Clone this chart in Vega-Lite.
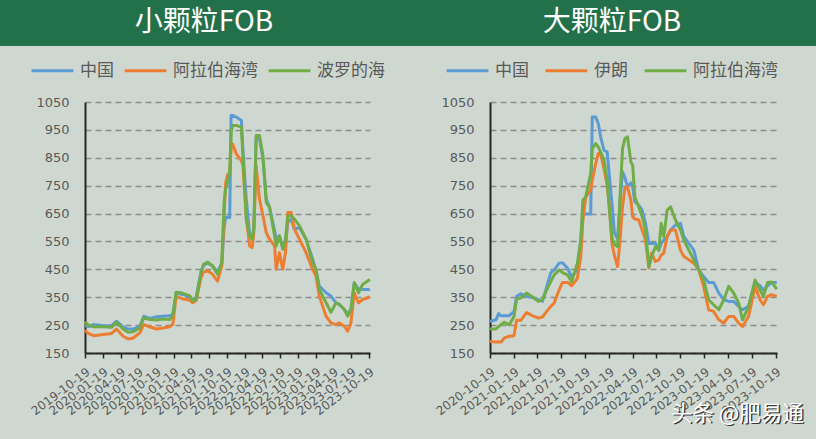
{
  "$schema": "https://vega.github.io/schema/vega-lite/v6.json",
  "background": "#CFD8D0",
  "padding": {"left": 0, "top": 0, "right": 0, "bottom": 14},
  "config": {
    "view": {"stroke": null},
    "axis": {"labelColor": "#595959", "domainColor": "#262626", "domainWidth": 2, "tickColor": "#262626", "tickWidth": 1.5, "labelFont": "DejaVu Sans", "labelOverlap": false, "labelFlush": false},
    "legend": {"orient": "none", "direction": "horizontal", "symbolType": "stroke", "symbolStrokeWidth": 3, "symbolSize": 1750, "labelFontSize": 17, "labelFont": "Noto Sans CJK SC", "labelColor": "#595959", "columnPadding": 4, "labelOffset": 5}
  },
  "spacing": 2,
  "vconcat": [
    {
      "spacing": 0,
      "hconcat": [
        {
          "width": 408, "height": 46,
          "view": {"fill": "#22714A", "stroke": null},
          "data": {"values": [{"title": "小颗粒FOB"}]},
          "mark": {"type": "text", "color": "white", "fontSize": 28, "font": "Noto Sans CJK SC", "align": "center", "baseline": "middle"},
          "encoding": {"text": {"field": "title"}}
        },
        {
          "width": 408, "height": 46,
          "view": {"fill": "#22714A", "stroke": null},
          "data": {"values": [{"title": "大颗粒FOB"}]},
          "mark": {"type": "text", "color": "white", "fontSize": 28, "font": "Noto Sans CJK SC", "align": "center", "baseline": "middle"},
          "encoding": {"text": {"field": "title"}}
        }
      ]
    },
    {
      "spacing": 0,
      "hconcat": [
        {
          "width": 1, "height": 10,
          "data": {"values": []},
          "mark": "point",
          "encoding": {}
        },
        {
          "spacing": 48,
          "resolve": {"scale": {"color": "independent", "x": "independent"}},
          "hconcat": [
            {
              "width": 285, "height": 251,
              "layer": [
                {
                  "data": {"values": [
{"date":"2019-10-19","series":"中国","price":248},
{"date":"2019-11-05","series":"中国","price":245},
{"date":"2019-12-01","series":"中国","price":252},
{"date":"2020-01-21","series":"中国","price":248},
{"date":"2020-03-04","series":"中国","price":248},
{"date":"2020-03-29","series":"中国","price":264},
{"date":"2020-05-02","series":"中国","price":244},
{"date":"2020-05-28","series":"中国","price":236},
{"date":"2020-06-23","series":"中国","price":236},
{"date":"2020-07-27","series":"中国","price":244},
{"date":"2020-08-16","series":"中国","price":282},
{"date":"2020-09-16","series":"中国","price":274},
{"date":"2020-10-20","series":"中国","price":280},
{"date":"2020-11-23","series":"中国","price":282},
{"date":"2020-12-27","series":"中国","price":284},
{"date":"2021-01-13","series":"中国","price":288},
{"date":"2021-01-30","series":"中国","price":364},
{"date":"2021-03-06","series":"中国","price":360},
{"date":"2021-04-09","series":"中国","price":352},
{"date":"2021-04-26","series":"中国","price":340},
{"date":"2021-05-13","series":"中国","price":350},
{"date":"2021-06-07","series":"中国","price":440},
{"date":"2021-06-20","series":"中国","price":465},
{"date":"2021-07-12","series":"中国","price":472},
{"date":"2021-08-06","series":"中国","price":462},
{"date":"2021-08-31","series":"中国","price":440},
{"date":"2021-09-22","series":"中国","price":470},
{"date":"2021-10-04","series":"中国","price":600},
{"date":"2021-10-12","series":"中国","price":636},
{"date":"2021-10-21","series":"中国","price":636},
{"date":"2021-11-02","series":"中国","price":636},
{"date":"2021-11-09","series":"中国","price":1002},
{"date":"2021-11-16","series":"中国","price":1002},
{"date":"2021-12-06","series":"中国","price":996},
{"date":"2022-01-01","series":"中国","price":984},
{"date":"2022-01-09","series":"中国","price":876},
{"date":"2022-01-26","series":"中国","price":702},
{"date":"2022-02-12","series":"中国","price":580},
{"date":"2022-02-26","series":"中国","price":560},
{"date":"2022-03-06","series":"中国","price":600},
{"date":"2022-03-18","series":"中国","price":920},
{"date":"2022-04-04","series":"中国","price":920},
{"date":"2022-04-22","series":"中国","price":846},
{"date":"2022-05-09","series":"中国","price":702},
{"date":"2022-05-26","series":"中国","price":672},
{"date":"2022-06-21","series":"中国","price":588},
{"date":"2022-06-29","series":"中国","price":560},
{"date":"2022-07-16","series":"中国","price":570},
{"date":"2022-08-02","series":"中国","price":530},
{"date":"2022-08-16","series":"中国","price":540},
{"date":"2022-08-28","series":"中国","price":618},
{"date":"2022-09-14","series":"中国","price":630},
{"date":"2022-10-01","series":"中国","price":594},
{"date":"2022-10-27","series":"中国","price":600},
{"date":"2022-11-30","series":"中国","price":558},
{"date":"2023-01-03","series":"中国","price":486},
{"date":"2023-01-20","series":"中国","price":444},
{"date":"2023-02-06","series":"中国","price":390},
{"date":"2023-03-13","series":"中国","price":366},
{"date":"2023-04-07","series":"中国","price":354},
{"date":"2023-05-03","series":"中国","price":330},
{"date":"2023-05-20","series":"中国","price":324},
{"date":"2023-06-15","series":"中国","price":306},
{"date":"2023-07-02","series":"中国","price":290},
{"date":"2023-07-19","series":"中国","price":306},
{"date":"2023-08-05","series":"中国","price":402},
{"date":"2023-08-27","series":"中国","price":378},
{"date":"2023-09-17","series":"中国","price":378},
{"date":"2023-10-13","series":"中国","price":378},
{"date":"2023-10-24","series":"中国","price":376},
{"date":"2019-10-19","series":"阿拉伯海湾","price":232},
{"date":"2019-11-05","series":"阿拉伯海湾","price":220},
{"date":"2019-12-01","series":"阿拉伯海湾","price":212},
{"date":"2020-01-21","series":"阿拉伯海湾","price":216},
{"date":"2020-03-04","series":"阿拉伯海湾","price":220},
{"date":"2020-03-29","series":"阿拉伯海湾","price":236},
{"date":"2020-05-02","series":"阿拉伯海湾","price":210},
{"date":"2020-05-28","series":"阿拉伯海湾","price":200},
{"date":"2020-06-23","series":"阿拉伯海湾","price":204},
{"date":"2020-07-27","series":"阿拉伯海湾","price":222},
{"date":"2020-08-16","series":"阿拉伯海湾","price":252},
{"date":"2020-09-16","series":"阿拉伯海湾","price":244},
{"date":"2020-10-20","series":"阿拉伯海湾","price":236},
{"date":"2020-11-23","series":"阿拉伯海湾","price":240},
{"date":"2020-12-27","series":"阿拉伯海湾","price":244},
{"date":"2021-01-13","series":"阿拉伯海湾","price":252},
{"date":"2021-01-30","series":"阿拉伯海湾","price":352},
{"date":"2021-03-06","series":"阿拉伯海湾","price":344},
{"date":"2021-04-09","series":"阿拉伯海湾","price":340},
{"date":"2021-04-26","series":"阿拉伯海湾","price":330},
{"date":"2021-05-13","series":"阿拉伯海湾","price":338},
{"date":"2021-06-07","series":"阿拉伯海湾","price":420},
{"date":"2021-06-20","series":"阿拉伯海湾","price":440},
{"date":"2021-07-12","series":"阿拉伯海湾","price":444},
{"date":"2021-08-06","series":"阿拉伯海湾","price":432},
{"date":"2021-08-31","series":"阿拉伯海湾","price":408},
{"date":"2021-09-22","series":"阿拉伯海湾","price":462},
{"date":"2021-10-04","series":"阿拉伯海湾","price":642},
{"date":"2021-10-12","series":"阿拉伯海湾","price":760},
{"date":"2021-10-21","series":"阿拉伯海湾","price":786},
{"date":"2021-11-02","series":"阿拉伯海湾","price":800},
{"date":"2021-11-09","series":"阿拉伯海湾","price":880},
{"date":"2021-11-16","series":"阿拉伯海湾","price":900},
{"date":"2021-12-06","series":"阿拉伯海湾","price":864},
{"date":"2022-01-01","series":"阿拉伯海湾","price":840},
{"date":"2022-01-09","series":"阿拉伯海湾","price":822},
{"date":"2022-01-26","series":"阿拉伯海湾","price":642},
{"date":"2022-02-12","series":"阿拉伯海湾","price":534},
{"date":"2022-02-26","series":"阿拉伯海湾","price":528},
{"date":"2022-03-06","series":"阿拉伯海湾","price":582},
{"date":"2022-03-18","series":"阿拉伯海湾","price":822},
{"date":"2022-04-04","series":"阿拉伯海湾","price":702},
{"date":"2022-04-22","series":"阿拉伯海湾","price":642},
{"date":"2022-05-09","series":"阿拉伯海湾","price":582},
{"date":"2022-05-26","series":"阿拉伯海湾","price":558},
{"date":"2022-06-21","series":"阿拉伯海湾","price":534},
{"date":"2022-06-29","series":"阿拉伯海湾","price":450},
{"date":"2022-07-16","series":"阿拉伯海湾","price":510},
{"date":"2022-08-02","series":"阿拉伯海湾","price":450},
{"date":"2022-08-16","series":"阿拉伯海湾","price":510},
{"date":"2022-08-28","series":"阿拉伯海湾","price":654},
{"date":"2022-09-14","series":"阿拉伯海湾","price":654},
{"date":"2022-10-01","series":"阿拉伯海湾","price":594},
{"date":"2022-10-27","series":"阿拉伯海湾","price":558},
{"date":"2022-11-30","series":"阿拉伯海湾","price":510},
{"date":"2023-01-03","series":"阿拉伯海湾","price":450},
{"date":"2023-01-20","series":"阿拉伯海湾","price":426},
{"date":"2023-02-06","series":"阿拉伯海湾","price":354},
{"date":"2023-03-13","series":"阿拉伯海湾","price":282},
{"date":"2023-04-07","series":"阿拉伯海湾","price":258},
{"date":"2023-05-03","series":"阿拉伯海湾","price":252},
{"date":"2023-05-20","series":"阿拉伯海湾","price":258},
{"date":"2023-06-15","series":"阿拉伯海湾","price":246},
{"date":"2023-07-02","series":"阿拉伯海湾","price":228},
{"date":"2023-07-19","series":"阿拉伯海湾","price":258},
{"date":"2023-08-05","series":"阿拉伯海湾","price":366},
{"date":"2023-08-27","series":"阿拉伯海湾","price":330},
{"date":"2023-09-17","series":"阿拉伯海湾","price":342},
{"date":"2023-10-13","series":"阿拉伯海湾","price":348},
{"date":"2023-10-24","series":"阿拉伯海湾","price":352},
{"date":"2019-10-19","series":"波罗的海","price":262},
{"date":"2019-11-05","series":"波罗的海","price":250},
{"date":"2019-12-01","series":"波罗的海","price":244},
{"date":"2020-01-21","series":"波罗的海","price":244},
{"date":"2020-03-04","series":"波罗的海","price":242},
{"date":"2020-03-29","series":"波罗的海","price":260},
{"date":"2020-05-02","series":"波罗的海","price":236},
{"date":"2020-05-28","series":"波罗的海","price":224},
{"date":"2020-06-23","series":"波罗的海","price":226},
{"date":"2020-07-27","series":"波罗的海","price":240},
{"date":"2020-08-16","series":"波罗的海","price":276},
{"date":"2020-09-16","series":"波罗的海","price":270},
{"date":"2020-10-20","series":"波罗的海","price":268},
{"date":"2020-11-23","series":"波罗的海","price":272},
{"date":"2020-12-27","series":"波罗的海","price":270},
{"date":"2021-01-13","series":"波罗的海","price":284},
{"date":"2021-01-30","series":"波罗的海","price":368},
{"date":"2021-03-06","series":"波罗的海","price":364},
{"date":"2021-04-09","series":"波罗的海","price":356},
{"date":"2021-04-26","series":"波罗的海","price":336},
{"date":"2021-05-13","series":"波罗的海","price":344},
{"date":"2021-06-07","series":"波罗的海","price":436},
{"date":"2021-06-20","series":"波罗的海","price":468},
{"date":"2021-07-12","series":"波罗的海","price":476},
{"date":"2021-08-06","series":"波罗的海","price":462},
{"date":"2021-08-31","series":"波罗的海","price":432},
{"date":"2021-09-22","series":"波罗的海","price":474},
{"date":"2021-10-04","series":"波罗的海","price":690},
{"date":"2021-10-12","series":"波罗的海","price":738},
{"date":"2021-10-21","series":"波罗的海","price":760},
{"date":"2021-11-02","series":"波罗的海","price":800},
{"date":"2021-11-09","series":"波罗的海","price":940},
{"date":"2021-11-16","series":"波罗的海","price":966},
{"date":"2021-12-06","series":"波罗的海","price":966},
{"date":"2022-01-01","series":"波罗的海","price":960},
{"date":"2022-01-09","series":"波罗的海","price":858},
{"date":"2022-01-26","series":"波罗的海","price":630},
{"date":"2022-02-12","series":"波罗的海","price":570},
{"date":"2022-02-26","series":"波罗的海","price":558},
{"date":"2022-03-06","series":"波罗的海","price":594},
{"date":"2022-03-18","series":"波罗的海","price":930},
{"date":"2022-04-04","series":"波罗的海","price":930},
{"date":"2022-04-22","series":"波罗的海","price":858},
{"date":"2022-05-09","series":"波罗的海","price":690},
{"date":"2022-05-26","series":"波罗的海","price":672},
{"date":"2022-06-21","series":"波罗的海","price":570},
{"date":"2022-06-29","series":"波罗的海","price":534},
{"date":"2022-07-16","series":"波罗的海","price":570},
{"date":"2022-08-02","series":"波罗的海","price":522},
{"date":"2022-08-16","series":"波罗的海","price":558},
{"date":"2022-08-28","series":"波罗的海","price":642},
{"date":"2022-09-14","series":"波罗的海","price":642},
{"date":"2022-10-01","series":"波罗的海","price":630},
{"date":"2022-10-27","series":"波罗的海","price":606},
{"date":"2022-11-30","series":"波罗的海","price":558},
{"date":"2023-01-03","series":"波罗的海","price":474},
{"date":"2023-01-20","series":"波罗的海","price":450},
{"date":"2023-02-06","series":"波罗的海","price":378},
{"date":"2023-03-13","series":"波罗的海","price":330},
{"date":"2023-04-07","series":"波罗的海","price":296},
{"date":"2023-05-03","series":"波罗的海","price":330},
{"date":"2023-05-20","series":"波罗的海","price":324},
{"date":"2023-06-15","series":"波罗的海","price":306},
{"date":"2023-07-02","series":"波罗的海","price":282},
{"date":"2023-07-19","series":"波罗的海","price":306},
{"date":"2023-08-05","series":"波罗的海","price":402},
{"date":"2023-08-27","series":"波罗的海","price":366},
{"date":"2023-09-17","series":"波罗的海","price":396},
{"date":"2023-10-13","series":"波罗的海","price":408},
{"date":"2023-10-24","series":"波罗的海","price":414}
                  ]},
                  "mark": {"type": "line", "strokeWidth": 3, "strokeJoin": "round"},
                  "encoding": {
                    "x": {"field": "date", "type": "temporal",
                      "scale": {"type": "utc", "domain": [{"year": 2019, "month": 10, "date": 19, "utc": true}, {"year": 2023, "month": 10, "date": 25, "utc": true}]},
                      "axis": {"title": null, "format": "%Y-%m-%d", "labelAngle": -37, "labelFontSize": 12, "tickSize": 5, "labelPadding": 8, "grid": false, "labelOverlap": false, "labelFlush": false,
                        "values": [
                          {"year": 2019, "month": 10, "date": 19, "utc": true},
                          {"year": 2020, "month": 1, "date": 19, "utc": true},
                          {"year": 2020, "month": 4, "date": 19, "utc": true},
                          {"year": 2020, "month": 7, "date": 19, "utc": true},
                          {"year": 2020, "month": 10, "date": 19, "utc": true},
                          {"year": 2021, "month": 1, "date": 19, "utc": true},
                          {"year": 2021, "month": 4, "date": 19, "utc": true},
                          {"year": 2021, "month": 7, "date": 19, "utc": true},
                          {"year": 2021, "month": 10, "date": 19, "utc": true},
                          {"year": 2022, "month": 1, "date": 19, "utc": true},
                          {"year": 2022, "month": 4, "date": 19, "utc": true},
                          {"year": 2022, "month": 7, "date": 19, "utc": true},
                          {"year": 2022, "month": 10, "date": 19, "utc": true},
                          {"year": 2023, "month": 1, "date": 19, "utc": true},
                          {"year": 2023, "month": 4, "date": 19, "utc": true},
                          {"year": 2023, "month": 7, "date": 19, "utc": true},
                          {"year": 2023, "month": 10, "date": 19, "utc": true}
                        ]}},
                    "y": {"field": "price", "type": "quantitative",
                      "scale": {"domain": [150, 1050]},
                      "axis": {"title": ".", "titleOpacity": 0, "titleAngle": 0, "titleX": -84, "titleY": 0, "titleAlign": "left", "titleBaseline": "top", "format": "d", "values": [150, 250, 350, 450, 550, 650, 750, 850, 950, 1050], "labelFontSize": 13, "ticks": false, "tickSize": 0, "labelPadding": 16, "labelOverlap": false, "grid": true, "gridColor": "#8C8C8C", "gridDash": [6, 4], "gridWidth": 1.3}},
                    "color": {"field": "series", "type": "nominal",
                      "scale": {"domain": ["中国", "阿拉伯海湾", "波罗的海"], "range": ["#5B9BD5", "#ED7D31", "#70AD47"]},
                      "legend": {"title": null, "legendX": -55, "legendY": -54}}
                  }
                }
              ]
            },
            {
              "width": 287, "height": 251,
              "resolve": {"axis": {"x": "independent", "y": "independent"}},
              "layer": [
                {
                  "data": {"values": [
{"date":"2020-10-19","series":"中国","price":263},
{"date":"2020-11-11","series":"中国","price":269},
{"date":"2020-11-21","series":"中国","price":291},
{"date":"2020-11-30","series":"中国","price":284},
{"date":"2020-12-13","series":"中国","price":284},
{"date":"2021-01-01","series":"中国","price":284},
{"date":"2021-01-19","series":"中国","price":299},
{"date":"2021-01-29","series":"中国","price":353},
{"date":"2021-02-14","series":"中国","price":362},
{"date":"2021-03-08","series":"中国","price":353},
{"date":"2021-04-06","series":"中国","price":347},
{"date":"2021-04-22","series":"中国","price":341},
{"date":"2021-05-08","series":"中国","price":335},
{"date":"2021-05-21","series":"中国","price":376},
{"date":"2021-06-09","series":"中国","price":438},
{"date":"2021-06-22","series":"中国","price":448},
{"date":"2021-07-11","series":"中国","price":472},
{"date":"2021-07-24","series":"中国","price":474},
{"date":"2021-08-12","series":"中国","price":454},
{"date":"2021-08-28","series":"中国","price":424},
{"date":"2021-09-19","series":"中国","price":448},
{"date":"2021-10-02","series":"中国","price":555},
{"date":"2021-10-10","series":"中国","price":651},
{"date":"2021-10-21","series":"中国","price":648},
{"date":"2021-11-09","series":"中国","price":648},
{"date":"2021-11-15","series":"中国","price":996},
{"date":"2021-11-28","series":"中国","price":996},
{"date":"2021-12-08","series":"中国","price":973},
{"date":"2021-12-17","series":"中国","price":925},
{"date":"2021-12-30","series":"中国","price":877},
{"date":"2022-01-11","series":"中国","price":871},
{"date":"2022-01-19","series":"中国","price":790},
{"date":"2022-01-30","series":"中国","price":680},
{"date":"2022-02-08","series":"中国","price":580},
{"date":"2022-02-20","series":"中国","price":560},
{"date":"2022-03-02","series":"中国","price":700},
{"date":"2022-03-11","series":"中国","price":800},
{"date":"2022-03-20","series":"中国","price":780},
{"date":"2022-03-30","series":"中国","price":746},
{"date":"2022-04-12","series":"中国","price":760},
{"date":"2022-04-19","series":"中国","price":746},
{"date":"2022-04-27","series":"中国","price":692},
{"date":"2022-05-12","series":"中国","price":680},
{"date":"2022-05-25","series":"中国","price":662},
{"date":"2022-06-07","series":"中国","price":615},
{"date":"2022-06-20","series":"中国","price":543},
{"date":"2022-06-30","series":"中国","price":543},
{"date":"2022-07-15","series":"中国","price":543},
{"date":"2022-07-28","series":"中国","price":519},
{"date":"2022-08-06","series":"中国","price":543},
{"date":"2022-08-16","series":"中国","price":555},
{"date":"2022-08-29","series":"中国","price":567},
{"date":"2022-09-11","series":"中国","price":591},
{"date":"2022-09-30","series":"中国","price":609},
{"date":"2022-10-19","series":"中国","price":615},
{"date":"2022-11-01","series":"中国","price":567},
{"date":"2022-11-20","series":"中国","price":543},
{"date":"2022-12-09","series":"中国","price":519},
{"date":"2022-12-28","series":"中国","price":448},
{"date":"2023-01-16","series":"中国","price":424},
{"date":"2023-02-04","series":"中国","price":403},
{"date":"2023-02-23","series":"中国","price":403},
{"date":"2023-03-15","series":"中国","price":365},
{"date":"2023-04-03","series":"中国","price":341},
{"date":"2023-04-22","series":"中国","price":335},
{"date":"2023-05-11","series":"中国","price":335},
{"date":"2023-05-30","series":"中国","price":317},
{"date":"2023-06-14","series":"中国","price":305},
{"date":"2023-07-07","series":"中国","price":317},
{"date":"2023-08-01","series":"中国","price":403},
{"date":"2023-08-20","series":"中国","price":391},
{"date":"2023-09-02","series":"中国","price":376},
{"date":"2023-09-18","series":"中国","price":391},
{"date":"2023-10-03","series":"中国","price":403},
{"date":"2023-10-23","series":"中国","price":403},
{"date":"2020-10-19","series":"伊朗","price":192},
{"date":"2020-11-11","series":"伊朗","price":189},
{"date":"2020-11-21","series":"伊朗","price":189},
{"date":"2020-11-30","series":"伊朗","price":189},
{"date":"2020-12-13","series":"伊朗","price":204},
{"date":"2021-01-01","series":"伊朗","price":210},
{"date":"2021-01-19","series":"伊朗","price":212},
{"date":"2021-01-29","series":"伊朗","price":267},
{"date":"2021-02-14","series":"伊朗","price":267},
{"date":"2021-03-08","series":"伊朗","price":295},
{"date":"2021-04-06","series":"伊朗","price":281},
{"date":"2021-04-22","series":"伊朗","price":275},
{"date":"2021-05-08","series":"伊朗","price":279},
{"date":"2021-05-21","series":"伊朗","price":295},
{"date":"2021-06-09","series":"伊朗","price":317},
{"date":"2021-06-22","series":"伊朗","price":329},
{"date":"2021-07-11","series":"伊朗","price":376},
{"date":"2021-07-24","series":"伊朗","price":403},
{"date":"2021-08-12","series":"伊朗","price":403},
{"date":"2021-08-28","series":"伊朗","price":391},
{"date":"2021-09-19","series":"伊朗","price":418},
{"date":"2021-10-02","series":"伊朗","price":496},
{"date":"2021-10-10","series":"伊朗","price":627},
{"date":"2021-10-21","series":"伊朗","price":710},
{"date":"2021-11-09","series":"伊朗","price":734},
{"date":"2021-11-15","series":"伊朗","price":770},
{"date":"2021-11-28","series":"伊朗","price":829},
{"date":"2021-12-08","series":"伊朗","price":865},
{"date":"2021-12-17","series":"伊朗","price":865},
{"date":"2021-12-30","series":"伊朗","price":811},
{"date":"2022-01-11","series":"伊朗","price":752},
{"date":"2022-01-19","series":"伊朗","price":680},
{"date":"2022-01-30","series":"伊朗","price":540},
{"date":"2022-02-08","series":"伊朗","price":500},
{"date":"2022-02-20","series":"伊朗","price":460},
{"date":"2022-03-02","series":"伊朗","price":560},
{"date":"2022-03-11","series":"伊朗","price":675},
{"date":"2022-03-20","series":"伊朗","price":740},
{"date":"2022-03-30","series":"伊朗","price":746},
{"date":"2022-04-12","series":"伊朗","price":698},
{"date":"2022-04-19","series":"伊朗","price":639},
{"date":"2022-04-27","series":"伊朗","price":631},
{"date":"2022-05-12","series":"伊朗","price":627},
{"date":"2022-05-25","series":"伊朗","price":591},
{"date":"2022-06-07","series":"伊朗","price":555},
{"date":"2022-06-20","series":"伊朗","price":455},
{"date":"2022-06-30","series":"伊朗","price":508},
{"date":"2022-07-15","series":"伊朗","price":478},
{"date":"2022-07-28","series":"伊朗","price":484},
{"date":"2022-08-06","series":"伊朗","price":501},
{"date":"2022-08-16","series":"伊朗","price":508},
{"date":"2022-08-29","series":"伊朗","price":567},
{"date":"2022-09-11","series":"伊朗","price":591},
{"date":"2022-09-30","series":"伊朗","price":591},
{"date":"2022-10-19","series":"伊朗","price":519},
{"date":"2022-11-01","series":"伊朗","price":496},
{"date":"2022-11-20","series":"伊朗","price":484},
{"date":"2022-12-09","series":"伊朗","price":472},
{"date":"2022-12-28","series":"伊朗","price":448},
{"date":"2023-01-16","series":"伊朗","price":388},
{"date":"2023-02-04","series":"伊朗","price":305},
{"date":"2023-02-23","series":"伊朗","price":299},
{"date":"2023-03-15","series":"伊朗","price":269},
{"date":"2023-04-03","series":"伊朗","price":257},
{"date":"2023-04-22","series":"伊朗","price":281},
{"date":"2023-05-11","series":"伊朗","price":281},
{"date":"2023-05-30","series":"伊朗","price":257},
{"date":"2023-06-14","series":"伊朗","price":245},
{"date":"2023-07-07","series":"伊朗","price":281},
{"date":"2023-08-01","series":"伊朗","price":388},
{"date":"2023-08-20","series":"伊朗","price":341},
{"date":"2023-09-02","series":"伊朗","price":323},
{"date":"2023-09-18","series":"伊朗","price":353},
{"date":"2023-10-03","series":"伊朗","price":359},
{"date":"2023-10-23","series":"伊朗","price":353},
{"date":"2020-10-19","series":"阿拉伯海湾","price":236},
{"date":"2020-11-11","series":"阿拉伯海湾","price":236},
{"date":"2020-11-21","series":"阿拉伯海湾","price":245},
{"date":"2020-11-30","series":"阿拉伯海湾","price":251},
{"date":"2020-12-13","series":"阿拉伯海湾","price":260},
{"date":"2021-01-01","series":"阿拉伯海湾","price":251},
{"date":"2021-01-19","series":"阿拉伯海湾","price":281},
{"date":"2021-01-29","series":"阿拉伯海湾","price":343},
{"date":"2021-02-14","series":"阿拉伯海湾","price":347},
{"date":"2021-03-08","series":"阿拉伯海湾","price":365},
{"date":"2021-04-06","series":"阿拉伯海湾","price":347},
{"date":"2021-04-22","series":"阿拉伯海湾","price":335},
{"date":"2021-05-08","series":"阿拉伯海湾","price":341},
{"date":"2021-05-21","series":"阿拉伯海湾","price":370},
{"date":"2021-06-09","series":"阿拉伯海湾","price":406},
{"date":"2021-06-22","series":"阿拉伯海湾","price":430},
{"date":"2021-07-11","series":"阿拉伯海湾","price":448},
{"date":"2021-07-24","series":"阿拉伯海湾","price":438},
{"date":"2021-08-12","series":"阿拉伯海湾","price":430},
{"date":"2021-08-28","series":"阿拉伯海湾","price":406},
{"date":"2021-09-19","series":"阿拉伯海湾","price":472},
{"date":"2021-10-02","series":"阿拉伯海湾","price":555},
{"date":"2021-10-10","series":"阿拉伯海湾","price":698},
{"date":"2021-10-21","series":"阿拉伯海湾","price":710},
{"date":"2021-11-09","series":"阿拉伯海湾","price":794},
{"date":"2021-11-15","series":"阿拉伯海湾","price":883},
{"date":"2021-11-28","series":"阿拉伯海湾","price":901},
{"date":"2021-12-08","series":"阿拉伯海湾","price":889},
{"date":"2021-12-17","series":"阿拉伯海湾","price":871},
{"date":"2021-12-30","series":"阿拉伯海湾","price":841},
{"date":"2022-01-11","series":"阿拉伯海湾","price":770},
{"date":"2022-01-19","series":"阿拉伯海湾","price":670},
{"date":"2022-01-30","series":"阿拉伯海湾","price":560},
{"date":"2022-02-08","series":"阿拉伯海湾","price":540},
{"date":"2022-02-20","series":"阿拉伯海湾","price":531},
{"date":"2022-03-02","series":"阿拉伯海湾","price":720},
{"date":"2022-03-11","series":"阿拉伯海湾","price":883},
{"date":"2022-03-20","series":"阿拉伯海湾","price":919},
{"date":"2022-03-30","series":"阿拉伯海湾","price":925},
{"date":"2022-04-12","series":"阿拉伯海湾","price":835},
{"date":"2022-04-19","series":"阿拉伯海湾","price":823},
{"date":"2022-04-27","series":"阿拉伯海湾","price":710},
{"date":"2022-05-12","series":"阿拉伯海湾","price":674},
{"date":"2022-05-25","series":"阿拉伯海湾","price":639},
{"date":"2022-06-07","series":"阿拉伯海湾","price":591},
{"date":"2022-06-20","series":"阿拉伯海湾","price":460},
{"date":"2022-06-30","series":"阿拉伯海湾","price":496},
{"date":"2022-07-15","series":"阿拉伯海湾","price":531},
{"date":"2022-07-28","series":"阿拉伯海湾","price":519},
{"date":"2022-08-06","series":"阿拉伯海湾","price":615},
{"date":"2022-08-16","series":"阿拉伯海湾","price":567},
{"date":"2022-08-29","series":"阿拉伯海湾","price":662},
{"date":"2022-09-11","series":"阿拉伯海湾","price":674},
{"date":"2022-09-30","series":"阿拉伯海湾","price":627},
{"date":"2022-10-19","series":"阿拉伯海湾","price":591},
{"date":"2022-11-01","series":"阿拉伯海湾","price":555},
{"date":"2022-11-20","series":"阿拉伯海湾","price":519},
{"date":"2022-12-09","series":"阿拉伯海湾","price":484},
{"date":"2022-12-28","series":"阿拉伯海湾","price":448},
{"date":"2023-01-16","series":"阿拉伯海湾","price":412},
{"date":"2023-02-04","series":"阿拉伯海湾","price":341},
{"date":"2023-02-23","series":"阿拉伯海湾","price":323},
{"date":"2023-03-15","series":"阿拉伯海湾","price":305},
{"date":"2023-04-03","series":"阿拉伯海湾","price":341},
{"date":"2023-04-22","series":"阿拉伯海湾","price":389},
{"date":"2023-05-11","series":"阿拉伯海湾","price":365},
{"date":"2023-05-30","series":"阿拉伯海湾","price":329},
{"date":"2023-06-14","series":"阿拉伯海湾","price":269},
{"date":"2023-07-07","series":"阿拉伯海湾","price":317},
{"date":"2023-08-01","series":"阿拉伯海湾","price":412},
{"date":"2023-08-20","series":"阿拉伯海湾","price":376},
{"date":"2023-09-02","series":"阿拉伯海湾","price":353},
{"date":"2023-09-18","series":"阿拉伯海湾","price":403},
{"date":"2023-10-03","series":"阿拉伯海湾","price":405},
{"date":"2023-10-23","series":"阿拉伯海湾","price":379}
                  ]},
                  "mark": {"type": "line", "strokeWidth": 3, "strokeJoin": "round"},
                  "encoding": {
                    "x": {"field": "date", "type": "temporal",
                      "scale": {"type": "utc", "domain": [{"year": 2020, "month": 10, "date": 19, "utc": true}, {"year": 2023, "month": 10, "date": 24, "utc": true}]},
                      "axis": {"title": null, "format": "%Y-%m-%d", "labelAngle": -37, "labelFontSize": 12, "tickSize": 5, "labelPadding": 8, "grid": false, "labelOverlap": false, "labelFlush": false,
                        "values": [
                          {"year": 2020, "month": 10, "date": 19, "utc": true},
                          {"year": 2021, "month": 1, "date": 19, "utc": true},
                          {"year": 2021, "month": 4, "date": 19, "utc": true},
                          {"year": 2021, "month": 7, "date": 19, "utc": true},
                          {"year": 2021, "month": 10, "date": 19, "utc": true},
                          {"year": 2022, "month": 1, "date": 19, "utc": true},
                          {"year": 2022, "month": 4, "date": 19, "utc": true},
                          {"year": 2022, "month": 7, "date": 19, "utc": true},
                          {"year": 2022, "month": 10, "date": 19, "utc": true},
                          {"year": 2023, "month": 1, "date": 19, "utc": true},
                          {"year": 2023, "month": 4, "date": 19, "utc": true},
                          {"year": 2023, "month": 7, "date": 19, "utc": true},
                          {"year": 2023, "month": 10, "date": 19, "utc": true}
                        ]}},
                    "y": {"field": "price", "type": "quantitative",
                      "scale": {"domain": [150, 1050]},
                      "axis": {"title": null, "format": "d", "values": [150, 250, 350, 450, 550, 650, 750, 850, 950, 1050], "labelFontSize": 13, "ticks": false, "tickSize": 0, "labelPadding": 16, "labelOverlap": false, "grid": true, "gridColor": "#8C8C8C", "gridDash": [6, 4], "gridWidth": 1.3}},
                    "color": {"field": "series", "type": "nominal",
                      "scale": {"domain": ["中国", "伊朗", "阿拉伯海湾"], "range": ["#5B9BD5", "#ED7D31", "#70AD47"]},
                      "legend": {"title": null, "legendX": -45, "legendY": -54, "columnPadding": 10}}
                  }
                },
                {
                  "data": {"values": [{"label": "头条 @肥易通"}]},
                  "mark": {"type": "text", "color": "#3A3A3A", "fontSize": 21.5, "font": "Noto Sans CJK SC", "dx": 1.5, "dy": 1.5},
                  "encoding": {
                    "x": {"datum": {"year": 2023, "month": 5, "date": 25, "utc": true}, "type": "temporal", "axis": null, "scale": {"type": "utc", "domain": [{"year": 2020, "month": 10, "date": 19, "utc": true}, {"year": 2023, "month": 10, "date": 24, "utc": true}]}},
                    "y": {"datum": -71, "type": "quantitative", "axis": null, "scale": {"domain": [150, 1050]}},
                    "text": {"field": "label"}
                  }
                },
                {
                  "data": {"values": [{"label": "头条 @肥易通"}]},
                  "mark": {"type": "text", "color": "white", "fontSize": 21.5, "font": "Noto Sans CJK SC"},
                  "encoding": {
                    "x": {"datum": {"year": 2023, "month": 5, "date": 25, "utc": true}, "type": "temporal", "axis": null, "scale": {"type": "utc", "domain": [{"year": 2020, "month": 10, "date": 19, "utc": true}, {"year": 2023, "month": 10, "date": 24, "utc": true}]}},
                    "y": {"datum": -71, "type": "quantitative", "axis": null, "scale": {"domain": [150, 1050]}},
                    "text": {"field": "label"}
                  }
                }
              ]
            }
          ]
        }
      ]
    }
  ]
}
